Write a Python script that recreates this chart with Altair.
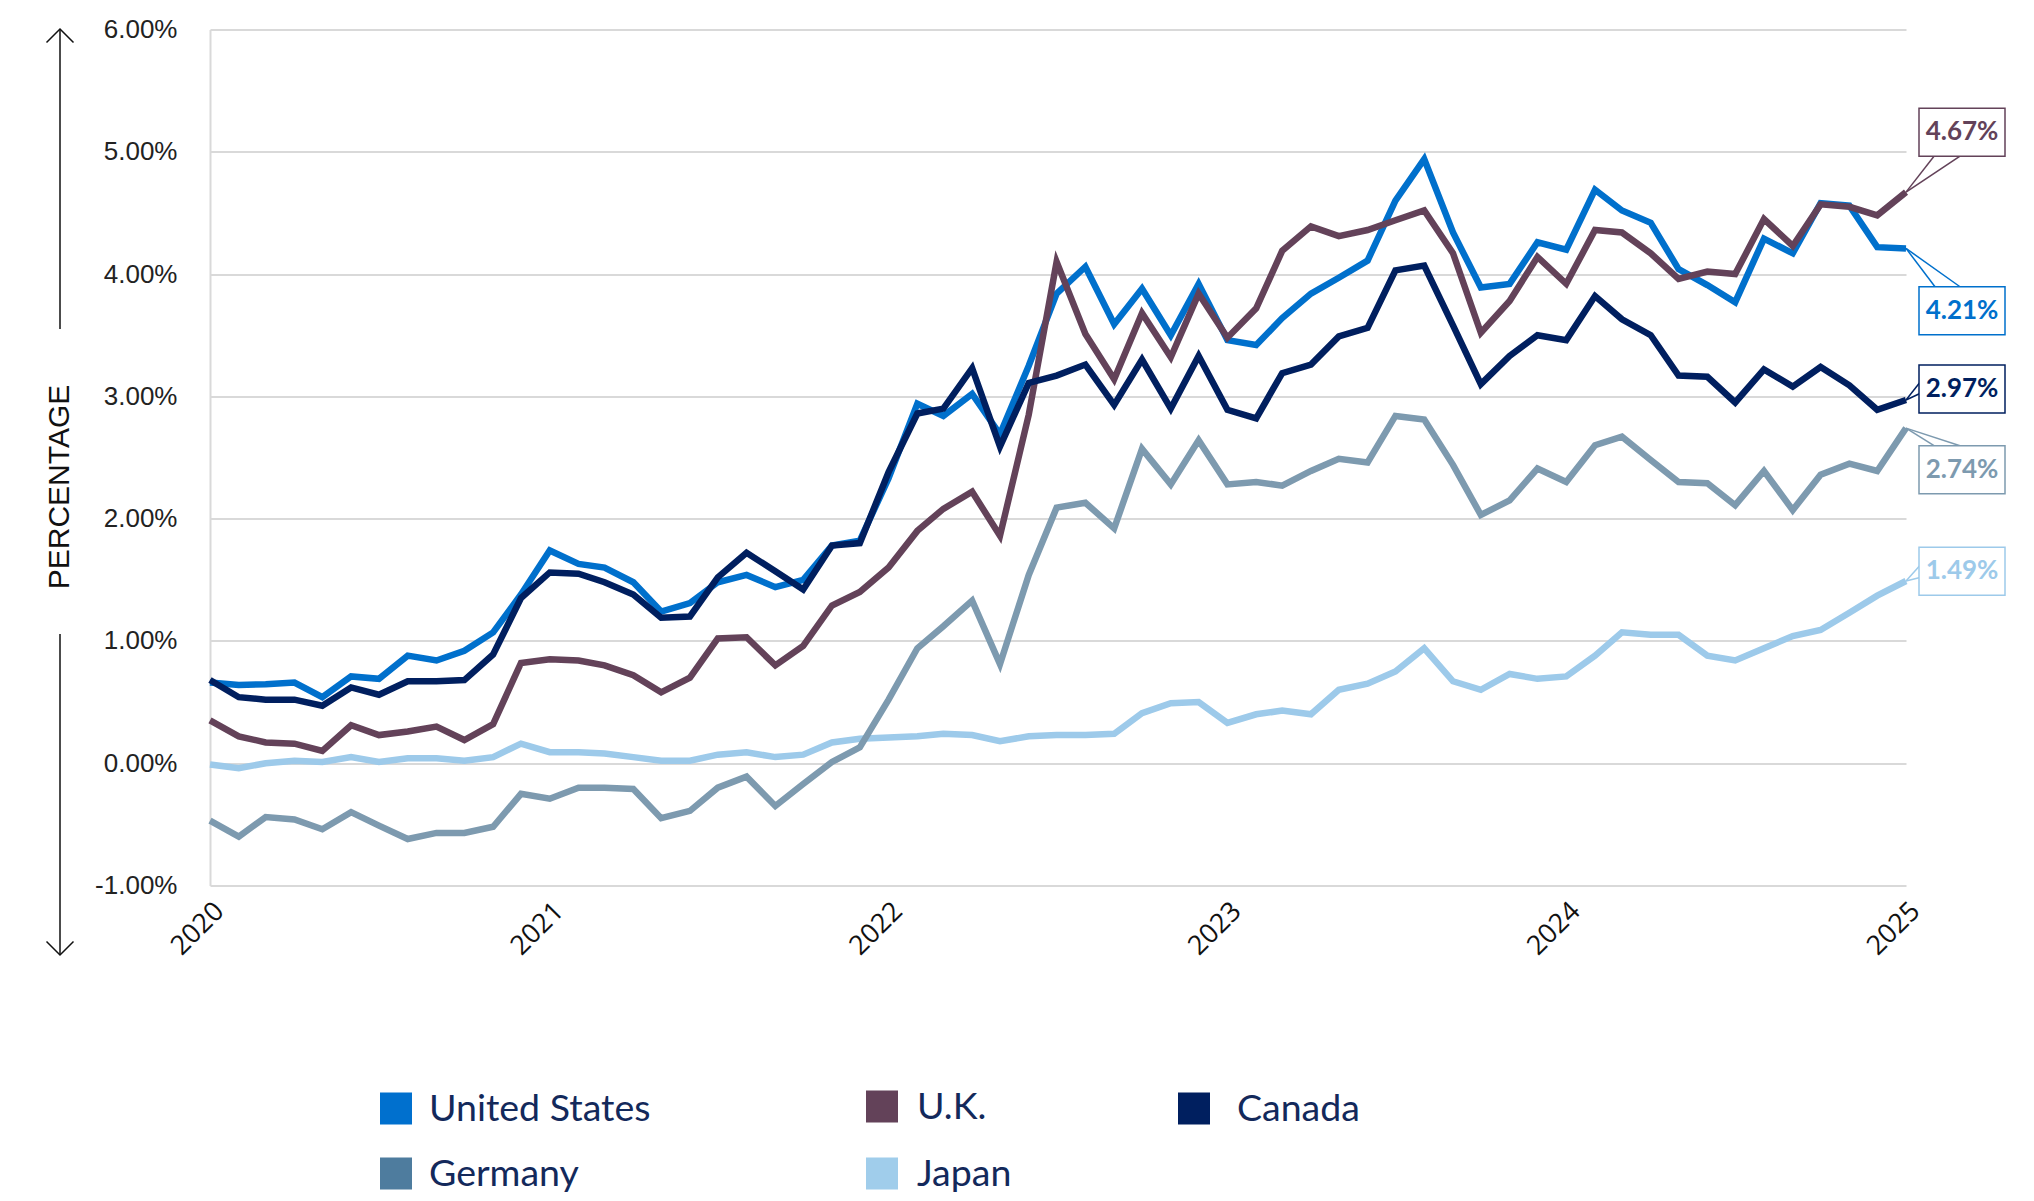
import altair as alt
import pandas as pd

# ---------------- data ----------------
dates = pd.date_range("2020-01-01", "2025-01-01", freq="MS")
countries = ["United States", "U.K.", "Canada", "Germany", "Japan"]

us = [0.66, 0.64, 0.645, 0.66, 0.54, 0.71, 0.69, 0.88, 0.84, 0.92, 1.07, 1.38,
      1.74, 1.63, 1.60, 1.48, 1.24, 1.31, 1.48, 1.54, 1.44, 1.50, 1.78, 1.82,
      2.33, 2.94, 2.84, 3.02, 2.69, 3.25, 3.84, 4.06, 3.59, 3.88, 3.50, 3.92,
      3.46, 3.42, 3.64, 3.84, 3.97, 4.11, 4.60, 4.94, 4.34, 3.89, 3.92, 4.26,
      4.20, 4.69, 4.52, 4.42, 4.04, 3.91, 3.77, 4.29, 4.17, 4.58, 4.56, 4.22,
      4.21]
uk = [0.35, 0.22, 0.17, 0.16, 0.10, 0.31, 0.23, 0.26, 0.30, 0.19, 0.32, 0.82,
      0.85, 0.84, 0.80, 0.72, 0.58, 0.70, 1.02, 1.03, 0.80, 0.96, 1.29, 1.40,
      1.60, 1.90, 2.08, 2.22, 1.86, 2.85, 4.10, 3.51, 3.14, 3.68, 3.32, 3.84,
      3.48, 3.72, 4.19, 4.39, 4.31, 4.36, 4.44, 4.52, 4.17, 3.52, 3.78, 4.14,
      3.92, 4.36, 4.34, 4.17, 3.96, 4.02, 4.00, 4.45, 4.23, 4.57, 4.55, 4.48,
      4.67]
canada = [0.68, 0.54, 0.52, 0.52, 0.47, 0.62, 0.56, 0.67, 0.67, 0.68, 0.89, 1.35,
          1.56, 1.55, 1.48, 1.38, 1.19, 1.20, 1.52, 1.72, 1.57, 1.42, 1.78, 1.80,
          2.38, 2.86, 2.90, 3.23, 2.59, 3.11, 3.17, 3.26, 2.93, 3.30, 2.90, 3.33,
          2.89, 2.82, 3.19, 3.26, 3.49, 3.56, 4.03, 4.07, 3.58, 3.10, 3.33, 3.50,
          3.46, 3.82, 3.63, 3.50, 3.17, 3.16, 2.95, 3.22, 3.08, 3.24, 3.09, 2.89,
          2.97]
germany = [-0.47, -0.60, -0.44, -0.46, -0.54, -0.40, -0.51, -0.62, -0.57, -0.57, -0.52, -0.25,
           -0.29, -0.20, -0.20, -0.21, -0.45, -0.39, -0.20, -0.11, -0.35, -0.17, 0.01, 0.13,
           0.52, 0.94, 1.12, 1.33, 0.81, 1.54, 2.09, 2.13, 1.92, 2.57, 2.28, 2.64,
           2.28, 2.30, 2.27, 2.39, 2.49, 2.46, 2.84, 2.81, 2.44, 2.03, 2.15, 2.41,
           2.30, 2.60, 2.67, 2.48, 2.30, 2.29, 2.11, 2.39, 2.07, 2.36, 2.45, 2.39,
           2.74]
japan = [-0.01, -0.04, 0.00, 0.02, 0.01, 0.05, 0.01, 0.04, 0.04, 0.02, 0.05, 0.16,
         0.09, 0.09, 0.08, 0.05, 0.02, 0.02, 0.07, 0.09, 0.05, 0.07, 0.17, 0.20,
         0.21, 0.22, 0.24, 0.23, 0.18, 0.22, 0.23, 0.23, 0.24, 0.41, 0.49, 0.50,
         0.33, 0.40, 0.43, 0.40, 0.60, 0.65, 0.75, 0.94, 0.67, 0.60, 0.73, 0.69,
         0.71, 0.88, 1.07, 1.05, 1.05, 0.88, 0.84, 0.94, 1.04, 1.09, 1.23, 1.37,
         1.49]
year_ticks = [2020, 2021, 2022, 2023, 2024, 2025]
y_ticks = [-1, 0, 1, 2, 3, 4, 5, 6]

series = {"United States": us, "U.K.": uk, "Canada": canada,
          "Germany": germany, "Japan": japan}

# ---------------- styles ----------------
line_colors = {"United States": "#0070CC", "U.K.": "#634259", "Canada": "#001F5F",
               "Germany": "#7D9AAF", "Japan": "#9DCAEA"}
legend_colors = {"United States": "#0070CE", "U.K.": "#634259", "Canada": "#001F5F",
                 "Germany": "#4E7C9E", "Japan": "#A0CDEB"}
draw_order = ["Japan", "Germany", "United States", "U.K.", "Canada"]

W, H = 1696, 856

df = pd.concat([pd.DataFrame({"date": dates, "value": v, "country": c})
                for c, v in series.items()], ignore_index=True)

x_scale = alt.Scale(domain=[alt.DateTime(year=2020, month=1, date=1),
                            alt.DateTime(year=2025, month=1, date=1)])
y_scale = alt.Scale(domain=[-1, 6])

x_axis = alt.Axis(
    title=None, values=[alt.DateTime(year=y, month=1, date=1) for y in year_ticks],
    format="%Y", labelAngle=-45, labelAlign="right", labelBaseline="top",
    labelPadding=12, labelFont="Open Sans", labelFontSize=27, labelColor="#111111",
    domain=False, ticks=False, grid=False, labelFlush=False, labelOverlap=False)
y_axis = alt.Axis(
    values=y_ticks,
    labelExpr="(datum.value < 0 ? '-' : '') + format(abs(datum.value), '.2f') + '%'",
    labelFont="Liberation Sans", labelFontSize=26, labelColor="#222222",
    labelPadding=33, ticks=False, domain=True, domainColor="#D9D9D9", domainWidth=2,
    grid=True, gridColor="#D9D9D9", gridWidth=2,
    title="PERCENTAGE", titleFont="Liberation Sans", titleFontSize=30,
    titleFontWeight="normal", titleColor="#111111", titleX=-151, titleY=457,
    titleAngle=-90, titleAlign="center", titleBaseline="middle")


def X(field="date"):
    return alt.X(f"{field}:T", scale=x_scale, axis=x_axis)


def Y(field="value"):
    return alt.Y(f"{field}:Q", scale=y_scale, axis=y_axis)


layers = []
for c in draw_order:
    layers.append(alt.Chart(df).transform_filter(alt.datum.country == c)
                  .mark_line(color=line_colors[c], strokeWidth=6.5)
                  .encode(x=X(), y=Y()))

# ---------------- callouts ----------------
# (country, box centre in value units, pointer base offsets (dx, dy))
callouts = [
    ("U.K.", 5.16, [(28, 24), (54, 24)]),
    ("United States", 3.70, [(29, -24), (54, -24)]),
    ("Canada", 3.06, [(15, -8), (15, 4)]),
    ("Germany", 2.40, [(28, -24), (54, -24)]),
    ("Japan", 1.57, [(15, -7), (15, 6)]),
]
for c, box_val, ptr in callouts:
    last = series[c][-1]
    col = line_colors[c]
    cdf = pd.DataFrame({"date": [dates[-1]], "value": [last], "box": [box_val],
                        "label": [f"{last:.2f}%"]})
    for dx, dy in ptr:
        layers.append(alt.Chart(cdf).mark_rule(color=col, strokeWidth=1.5,
                                               x2Offset=dx, y2Offset=dy)
                      .encode(x=X(), x2="date", y=Y(), y2="box"))
    layers.append(alt.Chart(cdf).mark_rect(fill="white", stroke=col, strokeWidth=1.5,
                                           xOffset=13, x2Offset=99,
                                           yOffset=-24, y2Offset=24)
                  .encode(x=X(), x2="date", y=Y("box"), y2="box"))
    layers.append(alt.Chart(cdf).mark_text(font="Lato", fontWeight="bold", fontSize=26,
                                           color=col, dx=56, align="center",
                                           baseline="middle")
                  .encode(x=X(), y=Y("box"), text="label:N"))

# ---------------- y-axis arrows ----------------
one = pd.DataFrame({"k": [0]})
AX = -150
layers.append(alt.Chart(one).mark_rule(color="#111111", strokeWidth=1.5)
              .encode(x=alt.value(AX), y=alt.value(-0.5), y2=alt.value(299.5)))
layers.append(alt.Chart(one).mark_rule(color="#111111", strokeWidth=1.5)
              .encode(x=alt.value(AX), y=alt.value(604.5), y2=alt.value(925.5)))
layers.append(alt.Chart(one).mark_point(shape="M-1,1L0,0L1,1", size=729, filled=False,
                                        stroke="#111111", strokeWidth=1.5, opacity=1)
              .encode(x=alt.value(AX), y=alt.value(-0.5)))
layers.append(alt.Chart(one).mark_point(shape="M-1,-1L0,0L1,-1", size=729, filled=False,
                                        stroke="#111111", strokeWidth=1.5, opacity=1)
              .encode(x=alt.value(AX), y=alt.value(925.5)))

# ---------------- legend ----------------
legend_layout = {  # swatch centre x, text x, row centre y (pixels from plot origin)
    "United States": (186, 219, 1079),
    "U.K.": (672, 707, 1077),
    "Canada": (984, 1027, 1079),
    "Germany": (186, 219, 1144),
    "Japan": (672, 707, 1144),
}
for c in countries:
    sx, tx, ly = legend_layout[c]
    layers.append(alt.Chart(one).mark_square(size=1024, color=legend_colors[c], opacity=1)
                  .encode(x=alt.value(sx), y=alt.value(ly)))
    layers.append(alt.Chart(one).mark_text(text=c, font="Lato", fontSize=37.5,
                                           color="#13295B", align="left",
                                           baseline="middle")
                  .encode(x=alt.value(tx), y=alt.value(ly + 1)))

chart = alt.layer(*layers).properties(
    width=W, height=H,
    autosize=alt.AutoSizeParams(type="none"),
    padding={"left": 202, "top": 21.5, "right": 118, "bottom": 308.5},
    background="white",
).configure_view(strokeWidth=0)

chart.save("out.html", embed_options={"renderer": "svg", "actions": False})
